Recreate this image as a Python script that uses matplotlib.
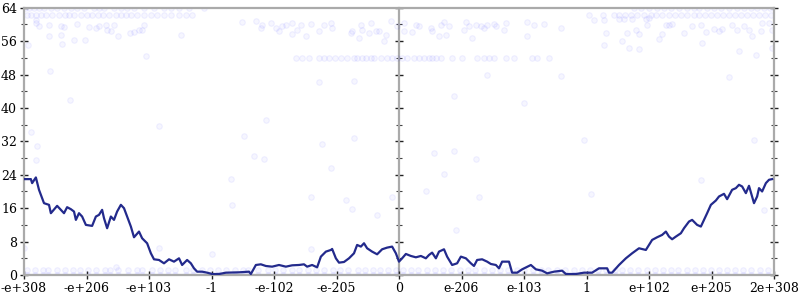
import matplotlib
matplotlib.use("Agg")
import matplotlib.pyplot as plt
from matplotlib.ticker import MultipleLocator
import numpy as np

## x is in tick units: -6 .. 6, one unit per labelled tick
tick_pos = [-6, -5, -4, -3, -2, -1, 0, 1, 2, 3, 4, 5, 6]
tick_labels = ["-e+308", "-e+206", "-e+103", "-1", "-e-102", "-e-205", "0",
               "e-206", "e-103", "1", "e+102", "e+205", "2e+308"]

## the dark line
line_x = [-6.0, -5.89, -5.87, -5.81, -5.76, -5.68, -5.6, -5.57, -5.47, -5.36, -5.31, -5.25, -5.2,
          -5.17, -5.12, -5.07, -5.01, -4.91, -4.85, -4.8, -4.75, -4.72, -4.67, -4.61, -4.56, -4.51,
          -4.45, -4.4, -4.35, -4.29, -4.24, -4.16, -4.11, -4.03, -3.97, -3.92, -3.84, -3.76, -3.68,
          -3.6, -3.52, -3.47, -3.39, -3.33, -3.28, -3.23, -3.15, -3.07, -2.99, -2.88, -2.77, -2.56,
          -2.4, -2.37, -2.29, -2.21, -2.13, -2.03, -1.92, -1.81, -1.71, -1.6, -1.52, -1.47, -1.39,
          -1.31, -1.25, -1.17, -1.09, -1.07, -1.01, -0.96, -0.88, -0.8, -0.72, -0.67, -0.61, -0.56,
          -0.51, -0.43, -0.35, -0.27, -0.19, -0.11, -0.05, -0.01,
          0.0, 0.05, 0.11, 0.19, 0.27, 0.35, 0.43, 0.48, 0.53, 0.59, 0.64, 0.72, 0.77, 0.85, 0.93,
          0.99, 1.07, 1.15, 1.2, 1.25, 1.33, 1.41, 1.47, 1.55, 1.6, 1.65, 1.76, 1.81, 1.89, 1.97,
          2.11, 2.19, 2.29, 2.37, 2.48, 2.61, 2.67, 2.83, 2.96, 3.09, 3.2, 3.33, 3.36, 3.41, 3.52,
          3.63, 3.73, 3.84, 3.95, 4.05, 4.13, 4.21, 4.27, 4.32, 4.37, 4.43, 4.51, 4.56, 4.64, 4.69,
          4.77, 4.83, 4.88, 4.93, 4.99, 5.07, 5.12, 5.2, 5.25, 5.33, 5.39, 5.44, 5.49, 5.55, 5.6,
          5.65, 5.68, 5.73, 5.76, 5.81, 5.87, 5.92, 5.97]
line_y = [22.96, 22.96, 22.0, 23.36, 20.4, 17.2, 16.8, 14.8, 16.56, 14.8, 16.24, 15.76, 15.2,
          13.2, 14.8, 14.0, 12.0, 11.76, 14.0, 14.4, 15.6, 13.6, 11.2, 14.0, 13.2, 15.2,
          16.8, 16.0, 14.0, 11.6, 9.04, 10.4, 8.8, 7.6, 5.2, 3.76, 3.6, 2.8, 3.76,
          3.2, 4.0, 2.4, 3.6, 2.8, 1.6, 0.8, 0.8, 0.56, 0.24, 0.24, 0.56, 0.64,
          0.8, 0.24, 2.4, 2.56, 2.16, 2.0, 2.4, 2.0, 2.32, 2.4, 2.56, 2.0, 2.4,
          1.84, 4.4, 5.6, 6.0, 6.24, 4.0, 2.96, 3.12, 4.0, 5.2, 7.2, 6.8, 7.6,
          6.4, 5.6, 4.96, 6.16, 6.56, 6.8, 5.2, 3.6,
          3.2, 4.0, 5.04, 4.56, 4.24, 4.56, 4.0, 4.8, 5.36, 4.0, 5.6, 6.16, 4.4, 2.4, 2.8,
          4.4, 4.0, 2.8, 2.16, 3.6, 3.76, 3.2, 2.64, 2.4, 1.6, 3.2, 3.2, 0.56, 0.56, 1.36,
          2.4, 1.36, 1.04, 0.4, 0.8, 1.04, 0.24, 0.24, 0.56, 0.56, 1.6, 1.6, 0.56, 0.56, 2.4,
          4.0, 5.2, 6.4, 6.0, 8.4, 9.04, 9.6, 10.4, 9.2, 8.56, 9.2, 10.0, 11.2, 12.8, 13.2,
          12.0, 11.6, 13.2, 14.8, 16.8, 17.84, 18.8, 19.44, 18.16, 20.4, 20.8, 21.6, 21.2, 19.6, 21.36,
          18.8, 17.2, 18.8, 20.8, 20.0, 22.0, 22.8, 22.96]

## faint points, row by row
row64_x = [-5.98, -5.92, -5.84, -5.76, -5.68, -5.57, -5.47, -5.36, -5.25, -5.15, -5.04, -4.88,
           -4.8, -4.72, -4.56, -4.45, -4.35, -4.24, -4.08, -3.92, -3.76, -3.65, -3.52, -3.36, -3.12,
           3.76, 3.87, 4.0, 4.13, 4.24, 4.35, 4.48, 4.61, 4.72, 4.8, 4.93, 5.04, 5.15, 5.28, 5.41,
           5.52, 5.63, 5.73, 5.84, 5.94]
row62_x = [-5.95, -5.89, -5.81, -5.73, -5.65, -5.55, -5.44, -5.34, -5.28, -5.2, -5.09, -4.99,
           -4.91, -4.82, -4.74, -4.64, -4.53, -4.45, -4.37, -4.29, -4.19, -4.08, -3.97, -3.87,
           -3.76, -3.65, -3.52, -3.41, -3.31,
           3.04, 3.26, 3.44, 3.52, 3.62, 3.71, 3.81, 3.92, 4.03, 4.11, 4.21, 4.32, 4.42, 4.51,
           4.61, 4.72, 4.8, 4.9, 4.99, 5.09, 5.18, 5.28, 5.38, 5.47, 5.57, 5.66, 5.76, 5.86, 5.95]
row52_x = [-1.65, -1.55, -1.44, -1.28, -1.2, -1.12, -1.02, -0.93, -0.83, -0.72, -0.67, -0.59,
           -0.53, -0.45, -0.4, -0.29, -0.19, -0.11, -0.03, 0.05, 0.13, 0.24, 0.32, 0.4, 0.48,
           0.53, 0.59, 0.67, 0.85, 1.01, 1.25, 1.36, 1.44, 1.52, 1.71, 1.84, 2.13, 2.21, 2.4]
row1_x = [-5.95, -5.82, -5.7, -5.61, -5.47, -5.35, -5.22, -5.1, -4.98, -4.85, -4.7, -4.62, -4.5,
          -4.33, -4.2, -4.11, -3.95, -3.83, -3.7, -3.58, -3.41, -3.3, -3.16, -3.02, -2.9, -2.77,
          -2.63, -2.5, -2.41, -2.25, -2.1, -1.98, -1.85, -1.72, -1.6, -1.45, -1.33, -1.2, -1.06,
          -0.95, -0.81, -0.66, -0.55, -0.41, -0.3, -0.17, -0.05,
          0.06, 0.19, 0.31, 0.44, 0.58, 0.7, 0.83, 0.97, 1.1, 1.22, 1.36, 1.49, 1.61, 1.75, 1.88,
          2.0, 2.14, 2.27, 2.39, 2.52, 2.66, 2.8, 2.92, 3.05, 3.18, 3.31, 3.45, 3.57, 3.7, 3.83,
          3.96, 4.09, 4.22, 4.35, 4.47, 4.6, 4.74, 4.86, 4.99, 5.12, 5.25, 5.38, 5.5, 5.63, 5.77,
          5.9]

## loose points
loose_x = [-5.93, -5.81, -5.81, -5.76, -5.6, -5.6, -5.41, -5.36, -5.41, -5.39, -5.2, -5.16, -5.02,
           -4.96, -4.85, -4.8, -4.69, -4.67, -4.61, -4.56, -4.49, -4.31, -4.24, -4.16, -4.12, -4.08,
           -4.05, -3.49, -2.51, -2.29, -2.21, -2.19, -2.05, -1.97, -1.92, -1.87, -1.81, -1.71, -1.71,
           -1.63, -1.57, -1.49, -1.41, -1.28, -1.2, -1.09, -1.07, -0.77, -0.75, -0.64, -0.61, -0.59,
           -0.48, -0.45, -0.37, -0.32, -0.24, -0.21, -0.13, -0.03,
           -5.58, -5.26, -5.89, -5.79, -3.84, -2.48, -2.13, -1.28, -1.23, -0.72, -0.72,
           0.08, 0.08, 0.21, 0.27, 0.32, 0.51, 0.53, 0.64, 0.67, 0.72, 0.75, 0.8, 1.04, 1.07, 1.12,
           1.17, 1.23, 1.31, 1.36, 1.41, 1.52, 1.55, 1.68, 1.71, 2.05, 2.05, 2.16, 2.32, 2.59, 3.12,
           3.28, 3.31, 3.28, 3.52, 3.57, 3.6, 3.65, 3.68, 3.73, 3.79, 3.84, 3.84, 3.95, 3.97, 4.0,
           4.16, 4.21, 4.27, 4.32, 4.37, 4.56, 4.69, 4.83, 4.85, 4.91, 5.04, 5.12, 5.17, 5.33, 5.41,
           5.44, 5.52, 5.6, 5.65, 5.71, 5.79, 5.81, 5.92, 5.97, 5.97,
           0.88, 1.41, 2.0, 2.59, 2.96, 5.28, 5.68,
           -5.81, -2.69, -2.67, -2.32, -2.16, -1.41, -1.09, -0.85, -0.75, -0.35, -0.11, -1.41, -3.84,
           -2.99, -4.53, -6.0,
           0.56, 0.88, 1.23, 0.72, 0.43, 1.28, 0.91, 3.07, 4.83, 5.84]
loose_y = [55.15, 61.15, 60.35, 59.55, 59.95, 57.31, 59.55, 59.39, 57.55, 55.39, 56.19, 60.19, 56.35,
           59.39, 59.15, 59.55, 59.95, 58.59, 58.35, 59.95, 57.15, 57.95, 58.27, 58.59, 58.75, 59.95,
           52.35, 57.55, 60.51, 60.75, 59.15, 59.95, 60.35, 59.15, 58.35, 59.71, 59.95, 60.35, 57.79,
           58.75, 59.95, 57.31, 60.19, 58.35, 59.95, 60.35, 59.15, 57.95, 58.35, 56.75, 59.95, 58.75,
           57.95, 60.35, 58.35, 58.35, 55.95, 57.55, 60.75, 59.71,
           48.75, 41.95, 34.35, 30.91, 35.71, 33.31, 37.15, 46.11, 31.39, 46.51, 32.91,
           60.35, 58.35, 58.11, 59.95, 59.55, 59.15, 58.35, 57.15, 59.95, 60.51, 57.55, 59.71, 58.75,
           60.51, 59.55, 56.75, 59.95, 59.71, 59.15, 59.95, 60.19, 59.55, 58.75, 60.35, 60.51, 57.31,
           59.95, 60.19, 59.15, 60.99, 60.99, 57.95, 55.15, 61.31, 55.95, 61.31, 57.95, 54.35, 61.31,
           58.59, 57.79, 54.11, 61.31, 59.95, 61.55, 56.51, 57.79, 59.95, 59.95, 60.19, 57.95, 59.55,
           59.95, 55.55, 58.19, 58.91, 58.35, 58.91, 59.95, 58.75, 53.55, 59.71, 58.75, 57.15, 52.75,
           58.35, 60.35, 60.35, 58.75, 54.35,
           42.91, 47.95, 41.15, 47.71, 32.35, 47.31, 32.35,
           27.58, 22.94, 16.78, 28.54, 27.74, 18.78, 25.58, 17.98, 15.74, 14.38, 18.78, 6.14, 6.38,
           5.02, 1.98, 6.38,
           29.18, 29.58, 27.74, 24.22, 20.22, 18.78, 10.78, 19.42, 22.78, 15.58]

plt.rcParams['font.family'] = ['DejaVu Serif']

fig = plt.figure(figsize=(8, 3), dpi=100)
ax = fig.add_axes([0.03, 0.0833, 0.9375, 0.891])

pts = dict(s=16, facecolor=(0, 0, 1, 0.035), edgecolor=(0, 0, 1, 0.055), linewidths=0.8)
ax.scatter(row64_x, [64] * len(row64_x), **pts)
ax.scatter(row62_x, [62.2] * len(row62_x), **pts)
ax.scatter(row52_x, [52] * len(row52_x), **pts)
ax.scatter(row1_x, [1.2] * len(row1_x), **pts)
ax.scatter(loose_x, loose_y, **pts)
##the zero row is so packed it shows as a solid blue band
ax.scatter(row1_x, [0] * len(row1_x), **pts)
ax.axhline(0, color="#3b4ae6", lw=2.2, zorder=2)

ax.plot(line_x, line_y, color="#232a8c", lw=1.6, zorder=3)

ax.set_xlim(-6, 6)
ax.set_ylim(0, 64)
ax.set_xticks(tick_pos)
ax.set_xticklabels(tick_labels)
ax.yaxis.set_major_locator(MultipleLocator(8))
ax.yaxis.set_minor_locator(MultipleLocator(4))

for side in ["left", "right", "top", "bottom"]:
    ax.spines[side].set_color("#aaaaaa")
    ax.spines[side].set_linewidth(1.6)

ax.tick_params(axis="both", which="major", direction="inout", length=6, width=1,
               color="#222222", labelsize=9, pad=2)
ax.tick_params(axis="y", which="minor", direction="inout", length=4, width=0.8, color="#444444")
ax.tick_params(axis="y", which="both", right=True)

##middle axis at zero
mid = ax.secondary_yaxis(0.5)
mid.spines["right"].set_color("#aaaaaa")
mid.spines["right"].set_linewidth(1.6)
mid.spines["left"].set_color("#aaaaaa")
mid.spines["left"].set_linewidth(1.6)
mid.yaxis.set_major_locator(MultipleLocator(8))
mid.yaxis.set_minor_locator(MultipleLocator(4))
mid.tick_params(which="major", direction="inout", length=6, width=1, color="#222222",
                labelleft=False, labelright=False)
mid.tick_params(which="minor", direction="inout", length=4, width=0.8, color="#444444")

fig.savefig("out.png", dpi=100)
